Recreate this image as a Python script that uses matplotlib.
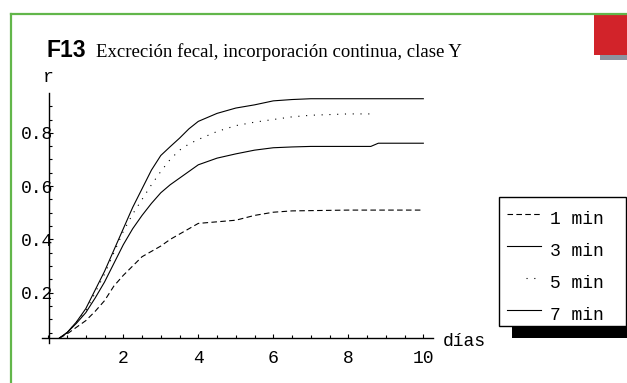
import numpy as np
import matplotlib
matplotlib.use("Agg")
import matplotlib.pyplot as plt
from matplotlib.lines import Line2D
from matplotlib.patches import Rectangle
from matplotlib.ticker import MultipleLocator, FixedLocator

# Days after the start of continuous intake
dias = [0.3, 0.5, 0.75, 1.0, 1.25, 1.5, 1.75, 2.0, 2.25, 2.5, 2.75, 3.0,
        3.25, 3.5, 3.75, 4.0, 4.5, 5.0, 5.5, 6.0, 6.5, 7.0, 8.0, 8.6, 8.8, 10.0]

# Fecal excretion fraction r for each particle size (AMAD)
r_1min = [0.03, 0.045, 0.07, 0.095, 0.13, 0.17, 0.225, 0.265, 0.30, 0.335, 0.355, 0.375,
          0.40, 0.42, 0.44, 0.46, 0.466, 0.472, 0.49, 0.502, 0.507, 0.508, 0.51, 0.51, 0.51, 0.51]
r_3min = [0.03, 0.05, 0.085, 0.125, 0.18, 0.24, 0.31, 0.38, 0.44, 0.49, 0.535, 0.575,
          0.605, 0.63, 0.655, 0.68, 0.705, 0.721, 0.735, 0.744, 0.747, 0.749, 0.749, 0.749, 0.761, 0.761]
r_5min = [0.03, 0.05, 0.09, 0.13, 0.20, 0.27, 0.35, 0.43, 0.495, 0.55, 0.605, 0.655,
          0.70, 0.735, 0.758, 0.775, 0.805, 0.827, 0.84, 0.85, 0.86, 0.866, 0.871, 0.871, np.nan, np.nan]
r_7min = [0.03, 0.05, 0.09, 0.14, 0.21, 0.28, 0.36, 0.44, 0.52, 0.59, 0.66, 0.715,
          0.748, 0.78, 0.815, 0.843, 0.873, 0.893, 0.905, 0.92, 0.925, 0.928, 0.928, 0.928, 0.928, 0.928]

series = [r_1min, r_3min, r_5min, r_7min]
series_labels = ["1 min", "3 min", "5 min", "7 min"]
series_styles = [(0, (5, 3)), "-", (0, (1, 6)), "-"]

x_ticks = [2, 4, 6, 8, 10]
y_ticks = [0.2, 0.4, 0.6, 0.8]

title_code = "F13"
title_text = "Excreción fecal, incorporación continua, clase Y"

W, H = 627, 383
fig = plt.figure(figsize=(W / 100, H / 100), dpi=100)
fig.patch.set_facecolor("white")


def fx(px):
    return px / W


def fy(py):
    return 1 - py / H


mono = "Liberation Mono"

# frame decorations of the page
fig.add_artist(Line2D([fx(10.5), fx(10.5)], [fy(13.5), fy(383)], color="#62b64a", lw=1.6,
                      transform=fig.transFigure))
fig.add_artist(Line2D([fx(10.5), fx(627)], [fy(13.5), fy(13.5)], color="#62b64a", lw=1.6,
                      transform=fig.transFigure))
fig.add_artist(Rectangle((fx(594), fy(55)), (627 - 594) / W, (55 - 14) / H,
                         transform=fig.transFigure, facecolor="#d2232a", edgecolor="none"))
fig.add_artist(Rectangle((fx(600), fy(60)), (627 - 600) / W, 5 / H,
                         transform=fig.transFigure, facecolor="#8e93a0", edgecolor="none"))

# title
fig.text(fx(46), fy(57), title_code, fontsize=16.5, fontweight="bold",
         family="Liberation Sans", va="baseline", ha="left")
fig.text(fx(96), fy(57), title_text, fontsize=13.5, family="Liberation Serif",
         va="baseline", ha="left")

# main axes
ax = fig.add_axes([fx(41.9), fy(343.3), (432.7 - 41.9) / W, (343.3 - 93.4) / H])
ax.set_facecolor("none")
ax.set_xlim(-0.17, 10.25)
ax.set_ylim(0.01, 0.948)

for y, ls in zip(series, series_styles):
    ax.plot(dias, y, color="black", lw=0.8, linestyle=ls)

for s in ["top", "right"]:
    ax.spines[s].set_visible(False)
ax.spines["left"].set_position(("data", 0.03))
ax.spines["bottom"].set_position(("data", 0.03))
for s in ["left", "bottom"]:
    ax.spines[s].set_linewidth(1.0)

ax.xaxis.set_major_locator(FixedLocator(x_ticks))
ax.xaxis.set_minor_locator(MultipleLocator(0.5))
ax.yaxis.set_major_locator(FixedLocator(y_ticks))
ax.yaxis.set_minor_locator(MultipleLocator(0.05))
ax.set_xticklabels([str(t) for t in x_ticks])
ax.set_yticklabels([f"{t:.1f}" for t in y_ticks])

ax.tick_params(axis="both", which="both", direction="in", color="black", width=0.8)
ax.tick_params(axis="both", which="major", length=3)
ax.tick_params(axis="both", which="minor", length=2)
ax.tick_params(axis="x", which="major", pad=9)
ax.tick_params(axis="y", which="major", pad=-2.5)
for lab in ax.get_xticklabels() + ax.get_yticklabels():
    lab.set_fontfamily(mono)
    lab.set_fontsize(13)

fig.text(fx(48), fy(77), "r", fontsize=13, family=mono, ha="center", va="center")
fig.text(fx(443), fy(341), "días", fontsize=13, family=mono, ha="left", va="center")

# legend box with drop shadow
fig.add_artist(Rectangle((fx(512), fy(338)), (627 - 512) / W, (338 - 209) / H,
                         transform=fig.transFigure, facecolor="black", edgecolor="none"))
fig.add_artist(Rectangle((fx(499), fy(326)), (626 - 499) / W, (326 - 197) / H,
                         transform=fig.transFigure, facecolor="white", edgecolor="black", lw=1.0))
text_rows = [219, 251, 283, 315]
handle_starts = [507, 507, 526, 507]
for row, x0, ls, lab in zip(text_rows, handle_starts, series_styles, series_labels):
    fig.add_artist(Line2D([fx(x0), fx(541)], [fy(row - 5), fy(row - 5)], color="black",
                          lw=0.8, linestyle=ls, transform=fig.transFigure))
    fig.text(fx(550), fy(row), lab, fontsize=13, family=mono, ha="left", va="center")

fig.savefig("out.png", dpi=100)
